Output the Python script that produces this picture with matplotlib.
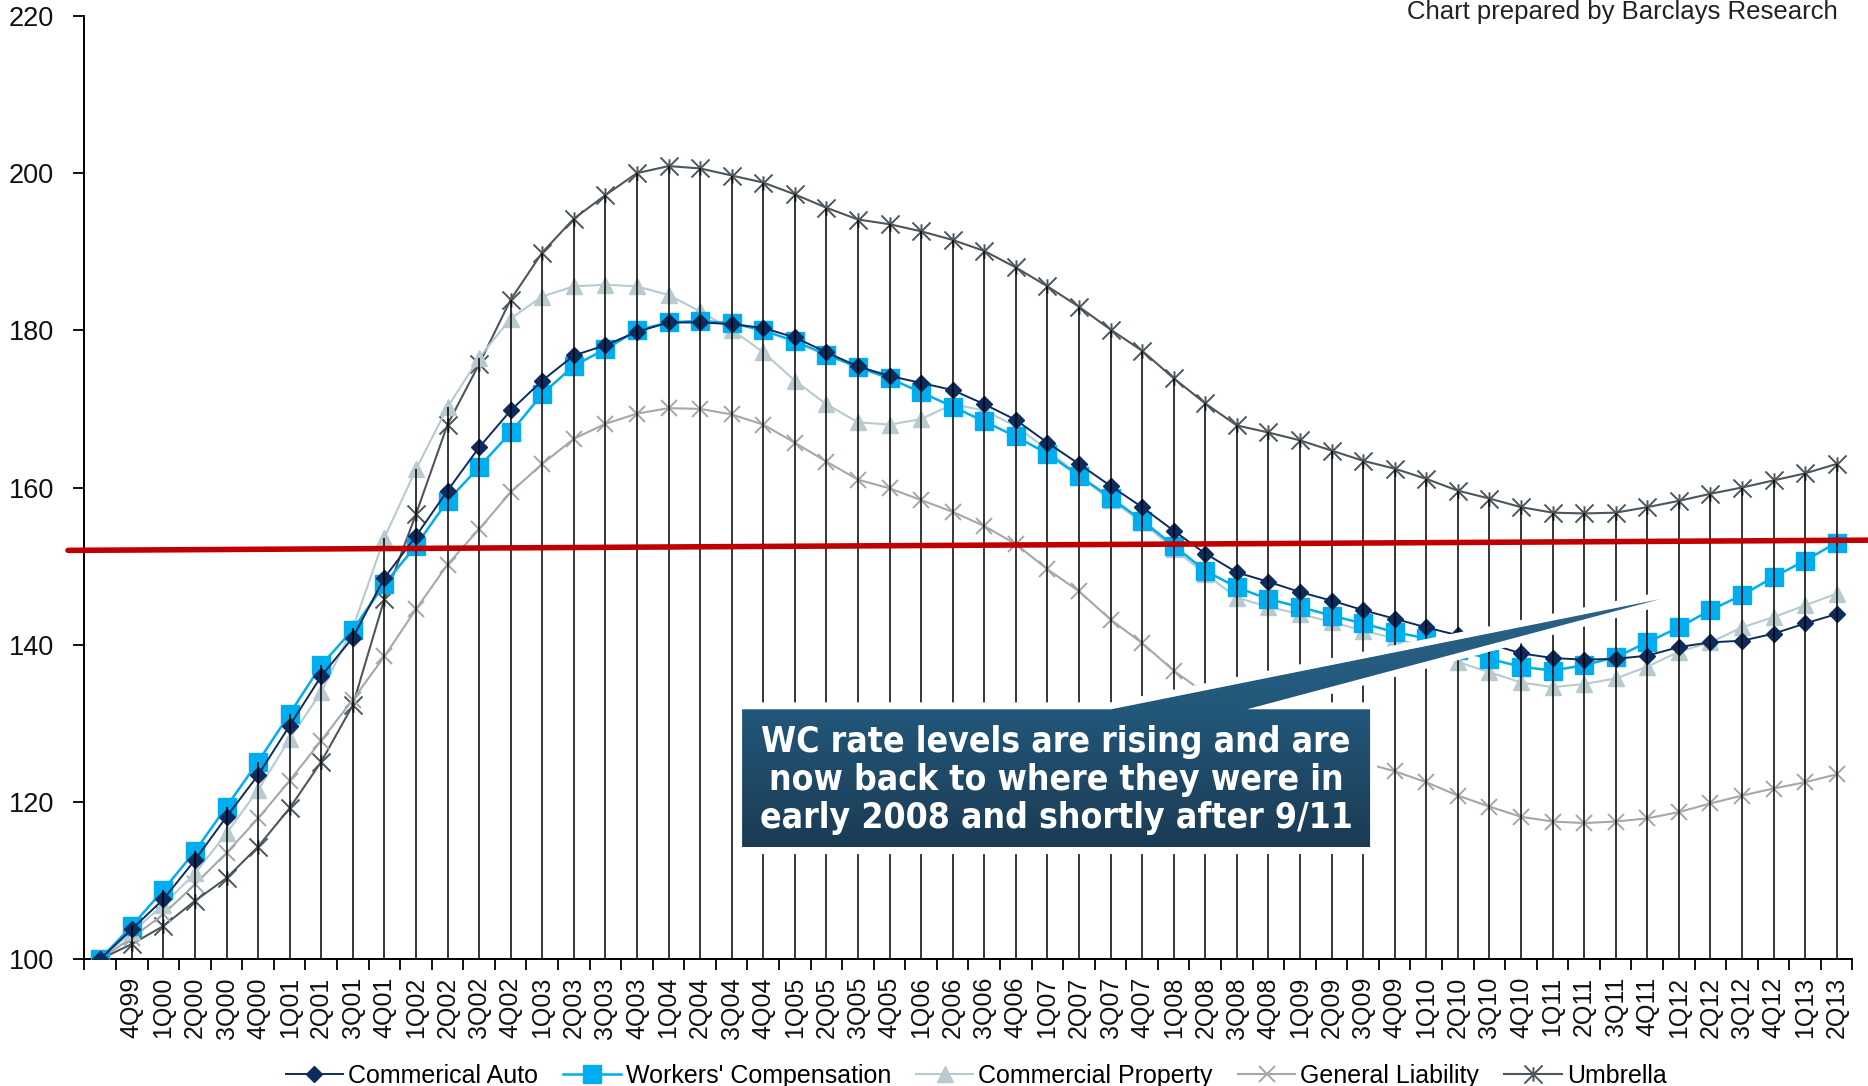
import matplotlib
matplotlib.use("Agg")
import matplotlib.pyplot as plt
import numpy as np
from matplotlib.path import Path
from matplotlib.patches import Polygon
from matplotlib.colors import LinearSegmentedColormap

plt.rcParams['font.family'] = ['Liberation Sans', 'DejaVu Sans']

# Quarterly rate index (base = 100), first category is unlabeled
quarters = ["", "4Q99",
            "1Q00", "2Q00", "3Q00", "4Q00", "1Q01", "2Q01", "3Q01", "4Q01",
            "1Q02", "2Q02", "3Q02", "4Q02", "1Q03", "2Q03", "3Q03", "4Q03",
            "1Q04", "2Q04", "3Q04", "4Q04", "1Q05", "2Q05", "3Q05", "4Q05",
            "1Q06", "2Q06", "3Q06", "4Q06", "1Q07", "2Q07", "3Q07", "4Q07",
            "1Q08", "2Q08", "3Q08", "4Q08", "1Q09", "2Q09", "3Q09", "4Q09",
            "1Q10", "2Q10", "3Q10", "4Q10", "1Q11", "2Q11", "3Q11", "4Q11",
            "1Q12", "2Q12", "3Q12", "4Q12", "1Q13", "2Q13"]

commercial_auto = [100, 103.8, 107.6, 112.6, 118.1, 123.4, 129.7, 136.0, 140.9, 148.5,
                   153.8, 159.6, 165.1, 169.8, 173.6, 176.8, 178.1, 179.8, 181.0, 181.0,
                   180.8, 180.3, 179.1, 177.2, 175.4, 174.2, 173.3, 172.4, 170.6, 168.6,
                   165.7, 163.0, 160.2, 157.5, 154.5, 151.6, 149.2, 148.0, 146.7, 145.6,
                   144.4, 143.3, 142.2, 141.2, 140.1, 138.9, 138.3, 138.1, 138.2, 138.6,
                   139.7, 140.3, 140.5, 141.4, 142.7, 143.9]
workers_comp = [100, 104.2, 108.8, 113.7, 119.4, 125.1, 131.2, 137.4, 141.9, 147.7,
                152.6, 158.3, 162.6, 167.0, 171.9, 175.5, 177.6, 180.0, 181.0, 181.2,
                180.9, 180.0, 178.6, 176.9, 175.3, 173.9, 172.1, 170.3, 168.4, 166.5,
                164.3, 161.5, 158.7, 155.8, 152.6, 149.4, 147.3, 145.8, 144.8, 143.7,
                142.7, 141.6, 140.8, 139.3, 138.2, 137.2, 136.7, 137.4, 138.4, 140.3,
                142.2, 144.4, 146.3, 148.6, 150.7, 153.0]
commercial_property = [100, 103.4, 106.9, 110.9, 116.0, 121.5, 128.0, 134.0, 142.1, 153.6,
                       162.3, 170.2, 176.5, 181.5, 184.3, 185.6, 185.8, 185.6, 184.5, 182.4,
                       180.1, 177.2, 173.6, 170.6, 168.3, 168.0, 168.7, 170.6, 169.8, 167.8,
                       164.8, 161.5, 158.4, 155.6, 152.2, 149.0, 146.0, 144.8, 143.9, 142.9,
                       141.8, 140.8, 139.7, 137.8, 136.5, 135.2, 134.6, 135.0, 135.7, 137.2,
                       139.1, 140.3, 142.2, 143.5, 145.0, 146.5]
general_liability = [100, 102.7, 105.7, 109.5, 113.5, 117.9, 122.7, 127.8, 133.0, 138.5,
                     144.5, 150.2, 154.7, 159.4, 163.0, 166.2, 168.1, 169.4, 170.1, 170.0,
                     169.3, 168.0, 165.7, 163.3, 161.0, 159.9, 158.4, 156.9, 155.1, 152.8,
                     149.6, 146.8, 143.2, 140.2, 136.7, 133.8, 131.2, 129.0, 127.3, 126.0,
                     125.0, 123.9, 122.5, 120.8, 119.4, 118.1, 117.5, 117.3, 117.5, 117.9,
                     118.7, 119.8, 120.8, 121.7, 122.5, 123.5]
umbrella = [100, 101.9, 104.2, 107.4, 110.3, 114.3, 119.2, 125.1, 132.3, 145.8,
            156.6, 168.0, 175.7, 183.9, 189.9, 194.2, 197.2, 200.0, 200.9, 200.6,
            199.7, 198.8, 197.3, 195.6, 194.1, 193.5, 192.6, 191.5, 190.1, 188.0,
            185.6, 183.0, 180.1, 177.4, 173.9, 170.7, 167.9, 167.0, 166.0, 164.7,
            163.4, 162.4, 161.1, 159.6, 158.6, 157.5, 156.8, 156.7, 156.8, 157.5,
            158.3, 159.2, 160.0, 160.9, 161.8, 163.0]

# reference level (WC today) drawn as a red line
ref_level = [152.0, 153.3]

x = np.arange(len(quarters))

# Excel-like asterisk marker: an x with a short vertical bar
star = Path([(-1, -1), (1, 1), (-1, 1), (1, -1), (0, -0.8), (0, 0.8)],
            [Path.MOVETO, Path.LINETO, Path.MOVETO, Path.LINETO, Path.MOVETO, Path.LINETO])

fig = plt.figure(figsize=(18.68, 10.86), dpi=100)
ax = fig.add_axes([0.0452, 0.1169, 0.9465, 0.8684])

ax.plot(x, umbrella, color='#4D565C', lw=1.5, marker=star, ms=13, mew=1.4,
        label='Umbrella', zorder=2)
ax.plot(x, general_liability, color='#A3A8AB', lw=1.5, marker='x', ms=11, mew=1.4,
        label='General Liability', zorder=2)
ax.plot(x, commercial_property, color='#B9CACF', lw=1.5, marker='^', ms=12,
        label='Commercial Property', zorder=2)
ax.plot(x, workers_comp, color='#00AEEF', lw=1.8, marker='s', ms=13,
        label="Workers' Compensation", zorder=3)
ax.plot(x, commercial_auto, color='#0D2B5C', lw=1.4, marker='D', ms=8.5,
        label='Commerical Auto', zorder=3)

# drop lines from the highest series down to the axis
tops = np.max(np.vstack([commercial_auto, workers_comp, commercial_property,
                         general_liability, umbrella]), axis=0)
ax.vlines(x, 100, tops, colors='black', lw=1.1, zorder=4)

ax.plot([-1.02, 56.0], ref_level, color='#C00000', lw=4, solid_capstyle='round',
        clip_on=False, zorder=5)

# callout box with wedge
L, R, T, B = 20.33, 40.22, 131.78, 114.24
w1, w2 = 32.02, 36.32
tip = (49.41, 145.8)
verts = [(L, B), (L, T), (w1, T), tip, (w2, T), (R, T), (R, B)]
ax.add_patch(Polygon(verts, closed=True, fc='white', ec='white', lw=10,
                     joinstyle='round', zorder=6))
clip = Polygon(verts, closed=True, fc='none', ec='none', zorder=7)
ax.add_patch(clip)
cmap = LinearSegmentedColormap.from_list(
    'callout', [(0, '#1B3B54'), (0.556, '#22577A'), (1, '#2A6386')])
grad = np.linspace(0, 1, 256).reshape(-1, 1)
im = ax.imshow(grad, extent=[L, tip[0], B, tip[1]], origin='lower', aspect='auto',
               cmap=cmap, zorder=7)
im.set_clip_path(clip)
ax.text((L + R) / 2, (T + B) / 2 - 0.2,
        "WC rate levels are rising and are\nnow back to where they were in\nearly 2008 and shortly after 9/11",
        ha='center', va='center', color='white', fontsize=25.5, fontweight='bold',
        family='DejaVu Sans', fontstretch='condensed', linespacing=1.14, zorder=8)

ax.set_xlim(-0.5, len(quarters) - 0.5)
ax.set_ylim(100, 220)

ax.set_xticks(np.arange(-0.5, len(quarters), 1))
ax.set_xticklabels([])
ax.set_xticks(x, minor=True)
ax.set_xticklabels(quarters, minor=True, rotation=90, fontsize=18, color='#111111')
ax.tick_params(axis='x', which='major', direction='out', length=8, width=1.3)
ax.tick_params(axis='x', which='minor', length=0, pad=13)
ax.set_yticks(np.arange(100, 221, 20))
ax.tick_params(axis='y', direction='out', length=8, width=1.3, pad=14,
               labelsize=19.5, labelcolor='#111111')

for side in ['top', 'right']:
    ax.spines[side].set_visible(False)
for side in ['left', 'bottom']:
    ax.spines[side].set_linewidth(1.4)

handles, labels = ax.get_legend_handles_labels()
order = [4, 3, 2, 1, 0]
fig.legend([handles[i] for i in order], [labels[i] for i in order], loc='center',
           bbox_to_anchor=(0.5225, 0.009), ncol=5, frameon=False, fontsize=18,
           handlelength=2.3, handletextpad=0.2, columnspacing=1.0)

fig.text(0.984, 0.989, "Chart prepared by Barclays Research", ha='right', va='center',
         fontsize=18.5, color='#222222')

fig.savefig("out.png", dpi=100)
